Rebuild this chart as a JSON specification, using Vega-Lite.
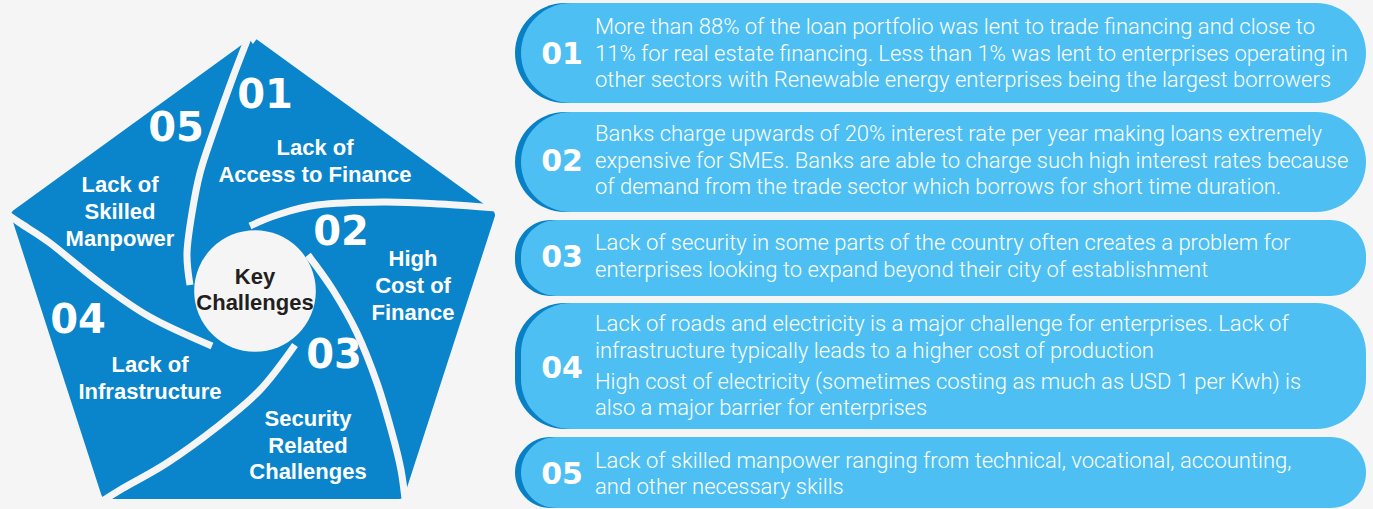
{
  "$schema": "https://vega.github.io/schema/vega-lite/v6.json",
  "width": 1373,
  "height": 509,
  "autosize": {"type": "none"},
  "padding": 0,
  "background": "#f5f5f5",
  "config": {"view": {"stroke": null}},
  "datasets": {
    "pent": [
      {"ord": 1, "x": 253, "y": 44},
      {"ord": 2, "x": 489, "y": 215},
      {"ord": 3, "x": 399, "y": 493},
      {"ord": 4, "x": 107, "y": 493},
      {"ord": 5, "x": 17, "y": 215},
      {"ord": 6, "x": 253, "y": 44}
    ],
    "gaps": [
      {"g": "1", "ord": 1, "x": 252, "y": 28},
      {"g": "1", "ord": 2, "x": 233, "y": 77},
      {"g": "1", "ord": 3, "x": 213, "y": 133},
      {"g": "1", "ord": 4, "x": 200, "y": 173},
      {"g": "1", "ord": 5, "x": 192, "y": 213},
      {"g": "1", "ord": 6, "x": 187, "y": 253},
      {"g": "1", "ord": 7, "x": 190, "y": 285},
      {"g": "2", "ord": 1, "x": 508, "y": 209},
      {"g": "2", "ord": 2, "x": 440, "y": 204},
      {"g": "2", "ord": 3, "x": 383, "y": 202},
      {"g": "2", "ord": 4, "x": 317, "y": 205},
      {"g": "2", "ord": 5, "x": 277, "y": 215},
      {"g": "2", "ord": 6, "x": 250, "y": 226},
      {"g": "3", "ord": 1, "x": 406, "y": 508},
      {"g": "3", "ord": 2, "x": 401, "y": 470},
      {"g": "3", "ord": 3, "x": 392, "y": 433},
      {"g": "3", "ord": 4, "x": 377, "y": 383},
      {"g": "3", "ord": 5, "x": 357, "y": 333},
      {"g": "3", "ord": 6, "x": 333, "y": 290},
      {"g": "3", "ord": 7, "x": 308, "y": 255},
      {"g": "4", "ord": 1, "x": 92, "y": 508},
      {"g": "4", "ord": 2, "x": 120, "y": 490},
      {"g": "4", "ord": 3, "x": 167, "y": 463},
      {"g": "4", "ord": 4, "x": 217, "y": 427},
      {"g": "4", "ord": 5, "x": 260, "y": 390},
      {"g": "4", "ord": 6, "x": 295, "y": 345},
      {"g": "5", "ord": 1, "x": 0, "y": 209},
      {"g": "5", "ord": 2, "x": 20, "y": 223},
      {"g": "5", "ord": 3, "x": 50, "y": 243},
      {"g": "5", "ord": 4, "x": 100, "y": 283},
      {"g": "5", "ord": 5, "x": 150, "y": 317},
      {"g": "5", "ord": 6, "x": 212, "y": 346}
    ],
    "hub": [{"x": 255, "y": 291}],
    "hubtext": [
      {"x": 255, "y": 277, "t": "Key"},
      {"x": 255, "y": 303, "t": "Challenges"}
    ],
    "pnum": [
      {"x": 265, "y": 96, "t": "01"},
      {"x": 341, "y": 233, "t": "02"},
      {"x": 334, "y": 356, "t": "03"},
      {"x": 78, "y": 321, "t": "04"},
      {"x": 176, "y": 129, "t": "05"}
    ],
    "plabel": [
      {"x": 315, "y": 148, "t": "Lack of"},
      {"x": 315, "y": 175, "t": "Access to Finance"},
      {"x": 413, "y": 259, "t": "High"},
      {"x": 413, "y": 286, "t": "Cost of"},
      {"x": 413, "y": 313, "t": "Finance"},
      {"x": 308, "y": 419, "t": "Security"},
      {"x": 308, "y": 446, "t": "Related"},
      {"x": 308, "y": 472, "t": "Challenges"},
      {"x": 150, "y": 365, "t": "Lack of"},
      {"x": 150, "y": 392, "t": "Infrastructure"},
      {"x": 120, "y": 185, "t": "Lack of"},
      {"x": 120, "y": 212, "t": "Skilled"},
      {"x": 120, "y": 239, "t": "Manpower"}
    ],
    "boxes": [
      {"id": "01", "x": 521, "x2": 1366, "y": 3, "y2": 103, "ny": 55},
      {"id": "02", "x": 521, "x2": 1366, "y": 112, "y2": 212, "ny": 162},
      {"id": "03", "x": 521, "x2": 1366, "y": 220, "y2": 296, "ny": 258},
      {"id": "04", "x": 521, "x2": 1366, "y": 303, "y2": 429, "ny": 369},
      {"id": "05", "x": 521, "x2": 1366, "y": 437, "y2": 508, "ny": 475}
    ],
    "btext": [
      {"y": 27, "t": "More than 88% of the loan portfolio was lent to trade financing and close to"},
      {"y": 54, "t": "11% for real estate financing. Less than 1% was lent to enterprises operating in"},
      {"y": 80, "t": "other sectors with Renewable energy enterprises being the largest borrowers"},
      {"y": 134, "t": "Banks charge upwards of 20% interest rate per year making loans extremely"},
      {"y": 161, "t": "expensive for SMEs. Banks are able to charge such high interest rates because"},
      {"y": 187, "t": "of demand from the trade sector which borrows for short time duration."},
      {"y": 243, "t": "Lack of security in some parts of the country often creates a problem for"},
      {"y": 270, "t": "enterprises looking to expand beyond their city of establishment"},
      {"y": 324, "t": "Lack of roads and electricity is a major challenge for enterprises. Lack of"},
      {"y": 351, "t": "infrastructure typically leads to a higher cost of production"},
      {"y": 382, "t": "High cost of electricity (sometimes costing as much as USD 1 per Kwh) is"},
      {"y": 408, "t": "also a major barrier for enterprises"},
      {"y": 461, "t": "Lack of skilled manpower ranging from technical, vocational, accounting,"},
      {"y": 487, "t": "and other necessary skills"}
    ]
  },
  "layer": [
    {
      "data": {"name": "pent"},
      "mark": {"type": "line", "filled": true, "fill": "#0a85cb", "stroke": "#0a85cb", "strokeWidth": 12, "strokeJoin": "round"},
      "encoding": {
        "x": {"field": "x", "type": "quantitative", "scale": {"domain": [0, 1373], "nice": false, "zero": false}, "axis": null},
        "y": {"field": "y", "type": "quantitative", "scale": {"domain": [509, 0], "nice": false, "zero": false}, "axis": null},
        "order": {"field": "ord", "type": "quantitative"}
      }
    },
    {
      "data": {"name": "gaps"},
      "mark": {"type": "line", "interpolate": "cardinal", "stroke": "#f5f5f5", "strokeWidth": 7, "strokeCap": "butt"},
      "encoding": {
        "x": {"field": "x", "type": "quantitative"},
        "y": {"field": "y", "type": "quantitative"},
        "detail": {"field": "g"},
        "order": {"field": "ord", "type": "quantitative"}
      }
    },
    {
      "data": {"name": "hub"},
      "mark": {"type": "point", "shape": "circle", "filled": true, "fill": "#f5f5f5", "opacity": 1, "size": 14800},
      "encoding": {
        "x": {"field": "x", "type": "quantitative"},
        "y": {"field": "y", "type": "quantitative"}
      }
    },
    {
      "data": {"name": "hubtext"},
      "mark": {"type": "text", "font": "Liberation Sans", "fontWeight": "bold", "fontSize": 22, "fill": "#231f20", "align": "center", "baseline": "middle"},
      "encoding": {
        "x": {"field": "x", "type": "quantitative"},
        "y": {"field": "y", "type": "quantitative"},
        "text": {"field": "t"}
      }
    },
    {
      "data": {"name": "pnum"},
      "mark": {"type": "text", "font": "DejaVu Sans", "fontWeight": "bold", "fontSize": 40, "fill": "white", "align": "center", "baseline": "middle"},
      "encoding": {
        "x": {"field": "x", "type": "quantitative"},
        "y": {"field": "y", "type": "quantitative"},
        "text": {"field": "t"}
      }
    },
    {
      "data": {"name": "plabel"},
      "mark": {"type": "text", "font": "Liberation Sans", "fontWeight": "bold", "fontSize": 22, "fill": "white", "align": "center", "baseline": "middle"},
      "encoding": {
        "x": {"field": "x", "type": "quantitative"},
        "y": {"field": "y", "type": "quantitative"},
        "text": {"field": "t"}
      }
    },
    {
      "data": {"name": "boxes"},
      "transform": [{"filter": "datum.y2 - datum.y > 90"}],
      "mark": {"type": "rect", "fill": "#0780c6", "cornerRadius": 50, "xOffset": -6, "x2Offset": -12},
      "encoding": {
        "x": {"field": "x", "type": "quantitative"},
        "x2": {"field": "x2"},
        "y": {"field": "y", "type": "quantitative"},
        "y2": {"field": "y2"}
      }
    },
    {
      "data": {"name": "boxes"},
      "transform": [{"filter": "datum.y2 - datum.y <= 90"}],
      "mark": {"type": "rect", "fill": "#0780c6", "cornerRadius": 36, "xOffset": -6, "x2Offset": -12},
      "encoding": {
        "x": {"field": "x", "type": "quantitative"},
        "x2": {"field": "x2"},
        "y": {"field": "y", "type": "quantitative"},
        "y2": {"field": "y2"}
      }
    },
    {
      "data": {"name": "boxes"},
      "transform": [{"filter": "datum.y2 - datum.y > 90"}],
      "mark": {"type": "rect", "fill": "#4dbff2", "cornerRadius": 50},
      "encoding": {
        "x": {"field": "x", "type": "quantitative"},
        "x2": {"field": "x2"},
        "y": {"field": "y", "type": "quantitative"},
        "y2": {"field": "y2"}
      }
    },
    {
      "data": {"name": "boxes"},
      "transform": [{"filter": "datum.y2 - datum.y <= 90"}],
      "mark": {"type": "rect", "fill": "#4dbff2", "cornerRadius": 36},
      "encoding": {
        "x": {"field": "x", "type": "quantitative"},
        "x2": {"field": "x2"},
        "y": {"field": "y", "type": "quantitative"},
        "y2": {"field": "y2"}
      }
    },
    {
      "data": {"name": "boxes"},
      "mark": {"type": "text", "font": "DejaVu Sans", "fontWeight": "bold", "fontSize": 30, "fill": "white", "align": "center", "baseline": "middle", "dx": 41},
      "encoding": {
        "x": {"field": "x", "type": "quantitative"},
        "y": {"field": "ny", "type": "quantitative"},
        "text": {"field": "id"}
      }
    },
    {
      "data": {"name": "btext"},
      "mark": {"type": "text", "font": "Roboto", "fontWeight": 300, "fontSize": 22, "fill": "white", "align": "left", "baseline": "middle"},
      "encoding": {
        "x": {"datum": 595, "type": "quantitative"},
        "y": {"field": "y", "type": "quantitative"},
        "text": {"field": "t"}
      }
    }
  ]
}
